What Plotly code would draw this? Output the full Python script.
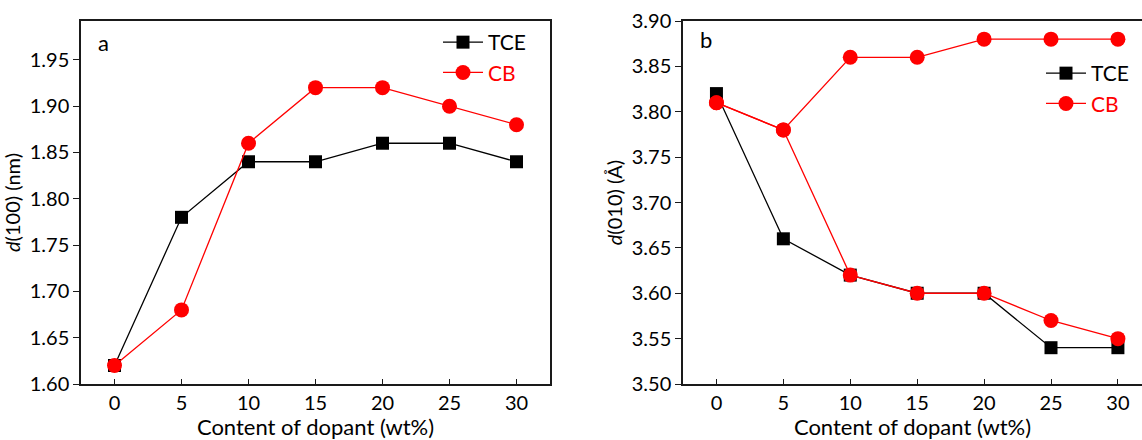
import plotly.graph_objects as go

# ---- data ----
dopant = [0, 5, 10, 15, 20, 25, 30]

d100_tce = [1.62, 1.78, 1.84, 1.84, 1.86, 1.86, 1.84]
d100_cb = [1.62, 1.68, 1.86, 1.92, 1.92, 1.90, 1.88]

d010_tce = [3.82, 3.66, 3.62, 3.60, 3.60, 3.54, 3.54]
d010_cb = [3.81, 3.78, 3.62, 3.60, 3.60, 3.57, 3.55]
d010_cb_upper = [3.81, 3.78, 3.86, 3.86, 3.88, 3.88, 3.88]

x_ticks = [0, 5, 10, 15, 20, 25, 30]

FONT = "Lato"
FS = 20
FT = 22
BLACK = "#000000"
RED = "#ff0000"
AX = "#1a1a1a"

fig = go.Figure()

def tce_trace(y, xa, ya, legend):
    return go.Scatter(x=dopant, y=y, xaxis=xa, yaxis=ya, mode="lines+markers",
                      name="TCE", legend=legend,
                      line=dict(color=BLACK, width=1.3),
                      marker=dict(symbol="square", size=13, color=BLACK))

def cb_trace(y, xa, ya, legend, show=True):
    return go.Scatter(x=dopant, y=y, xaxis=xa, yaxis=ya, mode="lines+markers",
                      name='<span style="color:#ff0000">CB</span>', legend=legend,
                      showlegend=show,
                      line=dict(color=RED, width=1.3),
                      marker=dict(symbol="circle", size=15, color=RED))

fig.add_trace(tce_trace(d100_tce, "x", "y", "legend"))
fig.add_trace(cb_trace(d100_cb, "x", "y", "legend"))
fig.add_trace(tce_trace(d010_tce, "x2", "y2", "legend2"))
fig.add_trace(cb_trace(d010_cb, "x2", "y2", "legend2"))
fig.add_trace(cb_trace(d010_cb_upper, "x2", "y2", "legend2", show=False))

W, H = 1142, 440
left_dom = [81 / W, 550 / W]
right_dom = [683 / W, 1.0]

xcommon = dict(tickmode="array", tickvals=x_ticks, ticks="inside", ticklen=5,
               tickwidth=1.3, tickcolor=AX, showline=True, linecolor=AX, linewidth=1.5,
               showgrid=False, zeroline=False,
               tickfont=dict(family=FONT, size=FS, color=BLACK),
               title=dict(text="Content of dopant (wt%)",
                          font=dict(family=FONT, size=FT, color=BLACK), standoff=2))
ycommon = dict(ticks="outside", ticklen=6, tickwidth=1.3, tickcolor=AX,
               showline=True, linecolor=AX, linewidth=1.5, showgrid=False,
               zeroline=False, tickformat=".2f", dtick=0.05,
               tickfont=dict(family=FONT, size=FS, color=BLACK))

fig.update_layout(
    width=W, height=H,
    margin=dict(l=0, r=0, t=21, b=56),
    paper_bgcolor="white", plot_bgcolor="white",
    font=dict(family=FONT, size=FS, color=BLACK),
    xaxis=dict(domain=left_dom, range=[-2.5, 32.5], mirror=True, anchor="y", **xcommon),
    yaxis=dict(domain=[0, 1], range=[1.60, 1.992], tick0=1.60, mirror=True, anchor="x",
               title=dict(text="<i>d</i>(100) (nm)", font=dict(family=FONT, size=FS),
                          standoff=4),
               **ycommon),
    xaxis2=dict(domain=right_dom, range=[-2.5, 31.8], mirror=True, anchor="y2", **xcommon),
    yaxis2=dict(domain=[0, 1], range=[3.50, 3.90], tick0=3.50, mirror=False, anchor="x2",
                title=dict(text="<i>d</i>(010) (Å)", font=dict(family=FONT, size=FS),
                           standoff=4),
                **ycommon),
    legend=dict(x=438 / W, y=1 - 1 / 363, xanchor="left", yanchor="top",
                bgcolor="rgba(0,0,0,0)", font=dict(family=FONT, size=21),
                itemwidth=40, tracegroupgap=4),
    legend2=dict(x=1041 / W, y=1 - 32 / 363, xanchor="left", yanchor="top",
                 bgcolor="rgba(0,0,0,0)", font=dict(family=FONT, size=21),
                 itemwidth=40, tracegroupgap=4),
    annotations=[
        dict(text="a", xref="x domain", yref="y domain", x=15 / 469, y=1 - 21 / 363,
             xanchor="left", yanchor="middle", showarrow=False,
             font=dict(family=FONT, size=FT, color=BLACK)),
        dict(text="b", xref="x2 domain", yref="y2 domain", x=15 / 459, y=1 - 19 / 363,
             xanchor="left", yanchor="middle", showarrow=False,
             font=dict(family=FONT, size=FT, color=BLACK)),
    ],
)

fig.write_html("out.html")
